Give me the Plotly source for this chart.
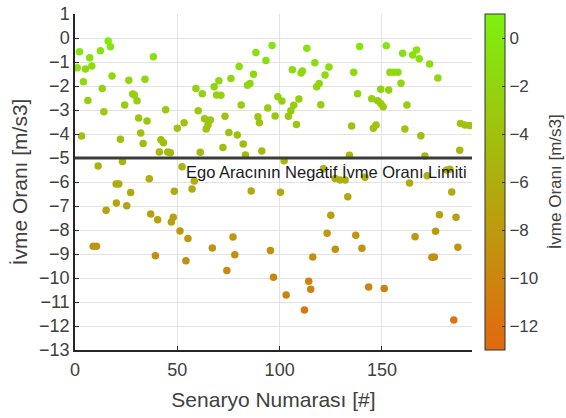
import plotly.graph_objects as go

# Scenario numbers and deceleration rates
scenario = [
    1.1, 2.2, 3.2, 4.1, 5.1, 6.3, 7.2, 8.2, 8.9, 10.5, 11.3, 12.4, 13.3, 14.1, 15.2, 16.2, 17.3, 18.1,
    20.1, 20.2, 21.4, 22.2, 23.2, 24.3, 25.3, 26.3, 27.2, 28.2, 29.0, 30.3, 31.1, 32.1, 33.3, 34.2,
    35.2, 36.3, 37.0, 38.3, 39.3, 40.4, 41.2, 42.0, 43.2, 44.3, 45.3, 46.6, 47.1, 48.0, 48.5, 50.0,
    51.3, 52.3, 53.3, 54.2, 55.2, 57.2, 58.3, 59.1, 60.2, 61.2, 62.2, 63.3, 64.1, 65.0, 66.1, 67.1,
    68.0, 69.2, 70.3, 71.3, 72.3, 73.3, 74.2, 75.2, 76.2, 77.2, 78.1, 79.3, 80.2, 81.2, 82.2, 83.3,
    84.3, 85.5, 86.1, 87.2, 88.4, 89.4, 90.1, 91.3, 93.3, 94.2, 95.5, 96.3, 97.0, 97.8, 99.1, 100.4,
    101.1, 102.2, 103.2, 104.3, 105.5, 106.2, 106.9, 108.2, 109.4, 110.5, 111.1, 112.1, 113.3, 114.2,
    115.2, 116.2, 117.2, 118.1, 119.3, 120.1, 121.4, 122.2, 123.2, 124.1, 125.0, 127.1, 127.2, 129.5,
    132.0, 133.3, 134.1, 135.2, 136.2, 137.2, 138.1, 139.1, 140.2, 141.7, 143.5, 145.0, 145.8, 147.1,
    147.9, 149.4, 149.5, 150.6, 151.1, 152.1, 153.3, 153.9, 155.8, 157.8, 159.3, 160.1, 161.2, 162.2,
    163.5, 165.0, 166.2, 166.9, 168.2, 169.0, 171.0, 172.1, 173.3, 174.4, 175.6, 176.2, 177.3, 178.1,
    181.6, 183.2, 184.1, 185.1, 186.2, 187.1, 188.0, 188.4, 190.5, 192.9,
]
decel_rate = [
    -1.24, -0.57, -4.08, -1.82, -1.29, -2.60, -0.82, -1.17, -8.68, -8.68, -5.33, -0.53, -2.10, -3.07, -7.18, -0.13, -0.36, -1.58,
    -6.08, -6.88, -6.08, -4.22, -5.15, -2.79, -6.99, -1.76, -6.44, -2.33, -2.38, -2.61, -3.33, -3.96, -4.40, -1.72,
    -3.46, -5.86, -7.33, -0.78, -9.07, -7.57, -4.75, -4.24, -4.36, -2.99, -4.75, -4.78, -7.67, -7.47, -6.39, -3.76,
    -8.04, -5.36, -3.53, -9.28, -8.35, -6.29, -5.96, -2.10, -3.03, -4.76, -2.32, -3.36, -3.79, -3.63, -3.42, -8.75,
    -2.03, -2.38, -1.78, -2.39, -4.56, -3.26, -9.69, -3.94, -1.69, -8.29, -9.03, -4.04, -1.19, -2.79, -4.42, -4.88,
    -1.97, -1.90, -6.38, -1.51, -0.60, -3.28, -3.53, -4.71, -0.94, -2.92, -8.85, -0.31, -9.97, -3.25, -2.45, -6.43,
    -2.63, -5.11, -10.71, -3.26, -3.03, -1.32, -2.80, -3.60, -2.54, -1.46, -1.38, -11.33, -0.43, -10.14,
    -10.47, -9.13, -1.03, -2.03, -1.90, -2.78, -5.45, -1.54, -8.14, -1.21, -7.39, -5.85, -8.80, -5.92,
    -5.92, -6.61, -4.89, -3.67, -1.43, -8.22, -2.32, -0.35, -8.76, -5.80, -10.38, -2.53, -3.76, -3.63,
    -2.61, -2.14, -2.74, -2.86, -10.44, -0.32, -2.17, -1.43, -1.43, -1.43, -1.89, -0.64, -3.79, -2.79,
    -6.04, -0.71, -8.28, -0.50, -0.86, -4.07, -4.92, -5.74, -1.08, -9.14, -9.12, -8.05, -1.67, -7.36,
    -5.50, -5.47, -6.42, -11.75, -7.47, -8.72, -4.68, -3.56, -3.63, -3.65,
]

limit_value = -5
limit_text = "Ego Aracının Negatif İvme Oranı Limiti"
x_ticks = [0, 50, 100, 150]
y_ticks = list(range(1, -14, -1))
cbar_ticks = [0, -2, -4, -6, -8, -10, -12]
cbar_title = "İvme Oranı [m/s3]"

font_family = "Liberation Sans, Arial, sans-serif"
text_col = "#404040"

fig = go.Figure()

fig.add_trace(go.Scatter(
    x=scenario, y=decel_rate, mode="markers",
    marker=dict(
        size=7.5, color=decel_rate, cmin=-13, cmax=1,
        colorscale=[[0, "rgb(226,104,14)"], [1, "rgb(124,242,14)"]],
        line=dict(width=0),
        colorbar=dict(
            x=1.033, xanchor="left", xpad=0, y=0.5, yanchor="middle", ypad=0,
            len=1.0, lenmode="fraction",
            thickness=20, outlinewidth=1, outlinecolor="#333333",
            tickvals=cbar_ticks, ticks="inside", ticklen=3, tickcolor="#333333",
            tickfont=dict(family=font_family, size=17, color=text_col),
        ),
    ),
    showlegend=False, hoverinfo="x+y",
))

fig.add_shape(type="line", xref="paper", x0=0, x1=1, yref="y", y0=limit_value, y1=limit_value,
              line=dict(color="#3c3c3c", width=3))

fig.add_annotation(x=53.5, y=-5.58, xref="x", yref="y", text=limit_text, showarrow=False,
                   xanchor="left", yanchor="middle",
                   font=dict(family=font_family, size=16.5, color="#1a1a1a"))

# colorbar title placed as rotated text at the right edge
fig.add_annotation(x=1.21, y=0.5, xref="paper", yref="paper", text=cbar_title, showarrow=False,
                   textangle=-90, xanchor="center", yanchor="middle",
                   font=dict(family=font_family, size=17, color=text_col))

fig.update_layout(
    width=566, height=418,
    margin=dict(l=75, r=94, t=14, b=68),
    paper_bgcolor="white", plot_bgcolor="white",
    font=dict(family=font_family, color=text_col),
    xaxis=dict(
        range=[0, 194], tickvals=x_ticks, showgrid=True, gridcolor="#e3e3e3", gridwidth=1,
        showline=True, linecolor="#262626", linewidth=1.5, mirror=False, automargin=False,
        ticks="inside", ticklen=4, tickcolor="#262626", zeroline=False, ticklabelstandoff=3,
        tickfont=dict(family=font_family, size=18, color=text_col),
        title=dict(text="Senaryo Numarası [#]", standoff=13,
                   font=dict(family=font_family, size=21, color=text_col)),
    ),
    yaxis=dict(
        range=[-13, 1], tickvals=y_ticks, showgrid=True, gridcolor="#e3e3e3", gridwidth=1,
        showline=True, linecolor="#262626", linewidth=1.5, mirror=False, automargin=False,
        ticks="inside", ticklen=4, tickcolor="#262626", zeroline=False,
        tickfont=dict(family=font_family, size=18, color=text_col),
        title=dict(text="İvme Oranı [m/s3]", standoff=6,
                   font=dict(family=font_family, size=21, color=text_col)),
    ),
)

fig.write_html("out.html", config={"displayModeBar": False},
               post_script="document.body.style.margin='0';")
